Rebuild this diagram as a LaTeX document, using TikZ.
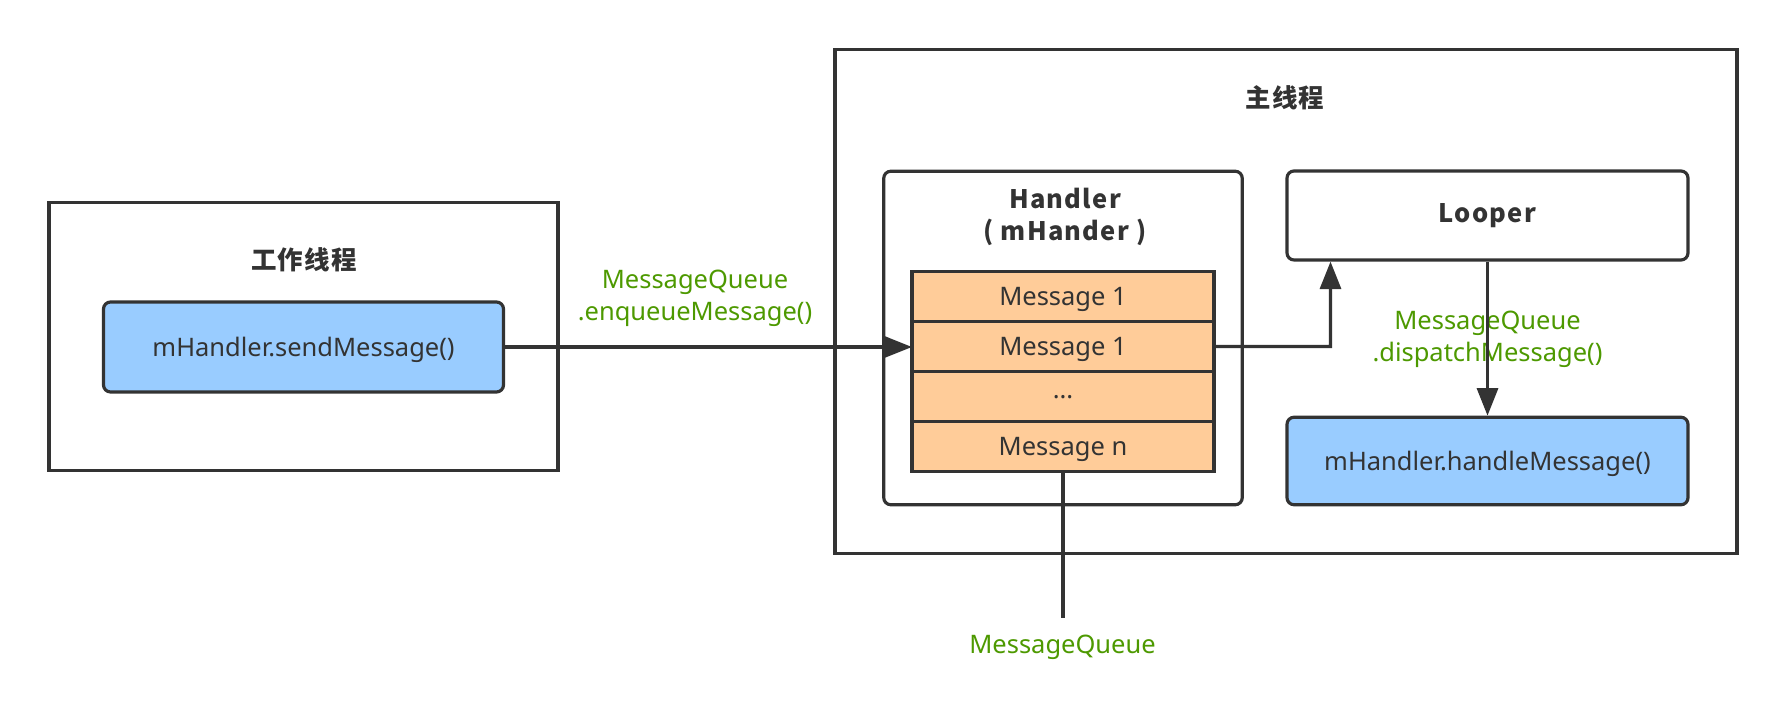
\documentclass[tikz,border=0pt]{standalone}
\usepackage{fontspec}
\setmainfont{Noto Sans}
\newfontfamily\cjk{Noto Sans CJK SC}
\usetikzlibrary{arrows.meta,positioning}
\definecolor{linegray}{HTML}{333333}
\definecolor{callblue}{HTML}{99CCFF}
\definecolor{msgorange}{HTML}{FFCC99}
\definecolor{labelgreen}{HTML}{4D9900}

\tikzset{
  >={Triangle[length=0.55cm,width=0.42cm]},
  every node/.style={text=linegray, font=\fontsize{14.5}{18.5}\selectfont},
  threadbox/.style={draw=linegray, line width=1.8pt, fill=white},
  objbox/.style={draw=linegray, line width=1.8pt, rounded corners=4pt, fill=white},
  callbox/.style={draw=linegray, line width=1.8pt, rounded corners=4pt, fill=callblue, text depth=0pt},
  msgcell/.style={draw=linegray, line width=1.8pt, fill=msgorange, outer sep=0pt,
    minimum width=6.04cm, minimum height=1cm, text depth=0pt},
  titletext/.style={font=\fontsize{14.5}{18.5}\selectfont\cjk\bfseries\addfontfeature{LetterSpace=5}},
  flowlabel/.style={text=labelgreen, align=center, font=\fontsize{14.5}{18}\selectfont},
  flow/.style={draw=linegray, line width=1.8pt}
}

\begin{document}
\begin{tikzpicture}
    \useasboundingbox (0,0) rectangle (35.72,14.40);

    % worker thread
    \node[threadbox, minimum width=10.18cm, minimum height=5.35cm] (worker) at (6.07,7.67) {};
    \node[titletext] (workertitle) at (6.08,9.20) {工作线程};
    \node[callbox, minimum width=8.0cm, minimum height=1.80cm] (send) at (6.07,7.46) {mHandler.sendMessage()};

    % main thread
    \node[threadbox, minimum width=18.04cm, minimum height=10.09cm] (main) at (25.72,8.37) {};
    \node[titletext] (maintitle) at (25.70,12.44) {主线程};

    \node[objbox, minimum width=7.17cm, minimum height=6.67cm] (handler) at (21.26,7.64) {};
    \node[titletext, align=center] (handlertitle) at (21.30,10.06) {Handler\\( mHander )};

    \node[msgcell] (msgA) at (21.26,8.47) {Message 1};
    \node[msgcell, below=0pt of msgA] (msgB) {Message 1};
    \node[msgcell, below=0pt of msgB] (msgC) {...};
    \node[msgcell, below=0pt of msgC] (msgD) {Message n};

    \node[objbox, titletext, minimum width=8.02cm, minimum height=1.78cm] (looper) at (29.75,10.09) {Looper};
    \node[callbox, minimum width=8.02cm, minimum height=1.75cm] (handle) at (29.75,5.18) {mHandler.handleMessage()};

    % labels
    \node[flowlabel] (enqueue) at (13.90,8.43) {MessageQueue\\.enqueueMessage()};
    \node[flowlabel] (dispatch) at (29.75,7.61) {MessageQueue\\.dispatchMessage()};
    \node[flowlabel] (mqname) at (21.25,1.46) {MessageQueue};

    \coordinate (turn) at (26.61,7.47);
    \coordinate (mqend) at (21.26,2.03);

    \draw[flow, ->] (send.east) -- (send.east -| msgB.west);
    \draw[flow, ->] (msgB.east) -- (turn) -- (turn |- looper.south);
    \draw[flow, ->] (looper) -- (handle);
    \draw[flow] (msgD) -- (mqend);
\end{tikzpicture}
\end{document}
